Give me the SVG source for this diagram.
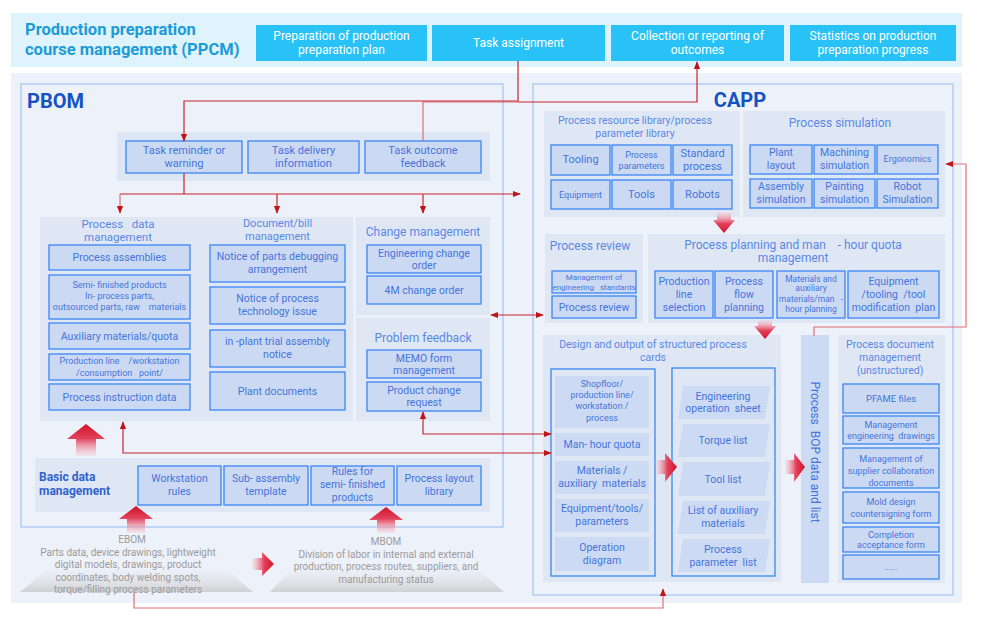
<svg xmlns="http://www.w3.org/2000/svg" width="987" height="629" viewBox="0 0 987 629">
<style>
text{font-family:Roboto,"Liberation Sans",sans-serif;text-anchor:middle;fill:#4674dc;font-size:10.5px}
.bx{fill:#cbdaf2;stroke:#3a86f4;stroke-width:1.3}
.fl{fill:#ccdbf3}
.pn{fill:#dfe7f5}
.ob{fill:none;stroke:#3a86f4;stroke-width:1.3}
.tt{font-size:12px;fill:#5b87e4}
.st{font-size:10.5px;fill:#5b87e4}
.cy{fill:#29c2f7}
.ct{fill:#ffffff;font-size:12px}
.g{fill:#9b9b9b;font-size:10px}
.s9{font-size:9px}
.s8{font-size:8px}
.hd{font-weight:bold;fill:#1552c4;font-size:20px}
.cn{fill:none;stroke:#c9252d;stroke-width:1.2}
.cl{fill:none;stroke:#de7077;stroke-width:1.2}
</style>
<defs>
<marker id="ah" viewBox="0 0 10 10" refX="9" refY="5" markerWidth="8" markerHeight="8" orient="auto-start-reverse" markerUnits="userSpaceOnUse"><path d="M0,1 L10,5 L0,9 Z" fill="#c0141c"/></marker>
<linearGradient id="gUp" x1="0" y1="0" x2="0" y2="1"><stop offset="0" stop-color="#d3122a"/><stop offset="0.45" stop-color="#e2415a"/><stop offset="1" stop-color="#f6d3db" stop-opacity="0.4"/></linearGradient>
<linearGradient id="gDn" x1="0" y1="1" x2="0" y2="0"><stop offset="0" stop-color="#d3122a"/><stop offset="0.45" stop-color="#e2415a"/><stop offset="1" stop-color="#f6d3db" stop-opacity="0.4"/></linearGradient>
<linearGradient id="gRt" x1="1" y1="0" x2="0" y2="0"><stop offset="0" stop-color="#d3122a"/><stop offset="0.45" stop-color="#e2415a"/><stop offset="1" stop-color="#f6d3db" stop-opacity="0.4"/></linearGradient>
<linearGradient id="gTr" x1="0" y1="0" x2="0" y2="1"><stop offset="0" stop-color="#e4e6ea" stop-opacity="0.2"/><stop offset="1" stop-color="#cfd0d3"/></linearGradient>
</defs>

<!-- PPCM band -->
<g id="ppcm">
<rect x="11" y="13" width="951" height="54" fill="#def3fb"/>
<text x="25" y="35" style="text-anchor:start;font-weight:bold;font-size:16.5px;fill:#1b9bd8">Production preparation</text>
<text x="25" y="55" style="text-anchor:start;font-weight:bold;font-size:16.5px;fill:#1b9bd8">course management (PPCM)</text>
</g>
<g id="plan"><rect class="cy" x="256" y="25" width="171" height="36"/><text class="ct" x="341.5" y="40">Preparation of production</text><text class="ct" x="341.5" y="54">preparation plan</text></g>
<g id="assign"><rect class="cy" x="432" y="25" width="173" height="36"/><text class="ct" x="518.5" y="47">Task assignment</text></g>
<g id="collect"><rect class="cy" x="611" y="25" width="173" height="36"/><text class="ct" x="697.5" y="40">Collection or reporting of</text><text class="ct" x="697.5" y="54">outcomes</text></g>
<g id="stats"><rect class="cy" x="790" y="25" width="166" height="36"/><text class="ct" x="873" y="40">Statistics on production</text><text class="ct" x="873" y="54">preparation progress</text></g>

<!-- main background -->
<rect x="11" y="73" width="951" height="530" fill="#edf1fa"/>

<!-- PBOM -->
<g id="pbom">
<rect x="21" y="84" width="482" height="443" fill="none" stroke="#a3c3f3" stroke-width="1.2"/>
<text class="hd" x="27" y="108" style="text-anchor:start">PBOM</text>
</g>
<g id="taskrow">
<rect x="117" y="132" width="373" height="49" fill="#dde6f4"/>
</g>
<g id="reminder"><rect class="bx" x="126" y="141" width="116" height="32"/><text x="184" y="154" style="font-size:11px">Task reminder or</text><text x="184" y="167" style="font-size:11px">warning</text></g>
<g id="delivery"><rect class="bx" x="248" y="141" width="111" height="32"/><text x="303.5" y="154" style="font-size:11px">Task delivery</text><text x="303.5" y="167" style="font-size:11px">information</text></g>
<g id="outcome"><rect class="bx" x="365" y="141" width="116" height="32"/><text x="423" y="154" style="font-size:11px">Task outcome</text><text x="423" y="167" style="font-size:11px">feedback</text></g>

<g id="pdm">
<rect class="pn" x="40" y="217" width="168" height="204"/>
<text class="tt" x="118" y="228" style="font-size:11.5px" xml:space="preserve">Process   data</text>
<text class="tt" x="118" y="241" style="font-size:11.5px">management</text>
<rect class="bx" x="49" y="245" width="141" height="25"/><text x="119.5" y="261">Process assemblies</text>
<rect class="bx" x="49" y="275" width="141" height="44"/><text class="s9" x="119.5" y="288">Semi- finished products</text><text class="s9" x="119.5" y="299">In- process parts,</text><text class="s9" x="119.5" y="310" xml:space="preserve">outsourced parts, raw    materials</text>
<rect class="bx" x="49" y="323" width="141" height="26"/><text x="119.5" y="340">Auxiliary materials/quota</text>
<rect class="bx" x="49" y="354" width="141" height="26"/><text class="s9" x="119.5" y="364" xml:space="preserve">Production line    /workstation</text><text class="s9" x="119.5" y="376" xml:space="preserve">/consumption   point/</text>
<rect class="bx" x="49" y="384" width="141" height="26"/><text x="119.5" y="401">Process instruction data</text>
</g>

<g id="docbill">
<rect class="pn" x="202" y="217" width="151" height="204"/>
<text class="tt" x="277.5" y="227" style="font-size:11px">Document/bill</text>
<text class="tt" x="277.5" y="240" style="font-size:11px">management</text>
<rect class="bx" x="210" y="245" width="135" height="37"/><text x="277.5" y="260">Notice of parts debugging</text><text x="277.5" y="273">arrangement</text>
<rect class="bx" x="210" y="287" width="135" height="37"/><text x="277.5" y="302">Notice of process</text><text x="277.5" y="315">technology issue</text>
<rect class="bx" x="210" y="330" width="135" height="37"/><text x="277.5" y="345">in -plant trial assembly</text><text x="277.5" y="358">notice</text>
<rect class="bx" x="210" y="372" width="135" height="38"/><text x="277.5" y="395">Plant documents</text>
</g>

<g id="change">
<rect class="pn" x="356" y="217" width="134" height="98"/>
<text class="tt" x="423" y="236">Change management</text>
<rect class="bx" x="367" y="245" width="114" height="28"/><text x="424" y="257">Engineering change</text><text x="424" y="269">order</text>
<rect class="bx" x="367" y="276" width="114" height="28"/><text x="424" y="294">4M change order</text>
</g>

<g id="problem">
<rect class="pn" x="356" y="318" width="134" height="103"/>
<text class="tt" x="423" y="342">Problem feedback</text>
<rect class="bx" x="367" y="350" width="114" height="28"/><text x="424" y="362">MEMO form</text><text x="424" y="374">management</text>
<rect class="bx" x="367" y="382" width="114" height="29"/><text x="424" y="394">Product change</text><text x="424" y="406">request</text>
</g>

<g id="basic">
<rect class="pn" x="35" y="458" width="455" height="54"/>
<text x="39" y="481" style="text-anchor:start;font-weight:bold;font-size:12px;fill:#2f62cc">Basic data</text>
<text x="39" y="495" style="text-anchor:start;font-weight:bold;font-size:12px;fill:#2f62cc">management</text>
<rect class="bx" x="138" y="466" width="83" height="39"/><text x="179.5" y="482">Workstation</text><text x="179.5" y="495">rules</text>
<rect class="bx" x="224" y="466" width="84" height="39"/><text x="266" y="482">Sub- assembly</text><text x="266" y="495">template</text>
<rect class="bx" x="311" y="466" width="83" height="39"/><text x="352.5" y="475">Rules for</text><text x="352.5" y="488">semi- finished</text><text x="352.5" y="501">products</text>
<rect class="bx" x="397" y="466" width="84" height="39"/><text x="439" y="482">Process layout</text><text x="439" y="495">library</text>
</g>

<g id="ebom">
<polygon points="20,592 253,592 227,570 47,570" fill="url(#gTr)"/>
<text class="g" x="132" y="543">EBOM</text>
<text class="g" x="128" y="556">Parts data, device drawings, lightweight</text>
<text class="g" x="128" y="568">digital models, drawings, product</text>
<text class="g" x="128" y="581">coordinates, body welding spots,</text>
<text class="g" x="128" y="593">torque/filling process parameters</text>
</g>
<g id="mbom">
<polygon points="270,592 504,592 479,570 291,570" fill="url(#gTr)"/>
<text class="g" x="386" y="545">MBOM</text>
<text class="g" x="386" y="558">Division of labor in internal and external</text>
<text class="g" x="386" y="570">production, process routes, suppliers, and</text>
<text class="g" x="386" y="583">manufacturing status</text>
</g>

<!-- CAPP -->
<g id="capp">
<rect x="533" y="84" width="420" height="511" fill="none" stroke="#a3c3f3" stroke-width="1.2"/>
<text class="hd" x="740" y="107">CAPP</text>
</g>

<g id="reslib">
<rect class="pn" x="544" y="111" width="196" height="106"/>
<text class="st" x="635" y="124">Process resource library/process</text>
<text class="st" x="635" y="137">parameter library</text>
<rect class="bx" x="551" y="145" width="59" height="30"/><text x="580.5" y="163" style="font-size:11px">Tooling</text>
<rect class="bx" x="612" y="145" width="59" height="30"/><text class="s9" x="641.5" y="158">Process</text><text class="s9" x="641.5" y="169">parameters</text>
<rect class="bx" x="673" y="145" width="59" height="30"/><text x="702.5" y="157" style="font-size:11px">Standard</text><text x="702.5" y="170" style="font-size:11px">process</text>
<rect class="bx" x="551" y="180" width="59" height="29"/><text class="s9" x="580.5" y="198">Equipment</text>
<rect class="bx" x="612" y="180" width="59" height="29"/><text x="641.5" y="198" style="font-size:11px">Tools</text>
<rect class="bx" x="673" y="180" width="59" height="29"/><text x="702.5" y="198" style="font-size:11px">Robots</text>
</g>

<g id="sim">
<rect class="pn" x="743" y="111" width="202" height="106"/>
<text class="tt" x="840" y="127">Process simulation</text>
<rect class="bx" x="750" y="145" width="62" height="29"/><text x="781" y="156">Plant</text><text x="781" y="169">layout</text>
<rect class="bx" x="814" y="145" width="61" height="29"/><text x="844.5" y="156">Machining</text><text x="844.5" y="169">simulation</text>
<rect class="bx" x="877" y="145" width="61" height="29"/><text class="s9" x="907.5" y="162">Ergonomics</text>
<rect class="bx" x="750" y="179" width="62" height="29"/><text x="781" y="190">Assembly</text><text x="781" y="203">simulation</text>
<rect class="bx" x="814" y="179" width="61" height="29"/><text x="844.5" y="190">Painting</text><text x="844.5" y="203">simulation</text>
<rect class="bx" x="877" y="179" width="61" height="29"/><text x="907.5" y="190">Robot</text><text x="907.5" y="203">Simulation</text>
</g>

<g id="review">
<rect class="pn" x="545" y="234" width="98" height="89"/>
<text class="tt" x="590" y="250">Process review</text>
<rect class="bx" x="552" y="271" width="84" height="22"/><text class="s8" x="594" y="280">Management of</text><text class="s8" x="594" y="290" xml:space="preserve">engineering   standards</text>
<rect class="bx" x="552" y="296" width="84" height="22"/><text x="594" y="311">Process review</text>
</g>

<g id="planning">
<rect class="pn" x="648" y="234" width="297" height="89"/>
<text class="tt" x="793" y="249" xml:space="preserve">Process planning and man    - hour quota</text>
<text class="tt" x="793" y="262">management</text>
<rect class="bx" x="655" y="271" width="58" height="47"/><text x="684" y="285">Production</text><text x="684" y="298">line</text><text x="684" y="311">selection</text>
<rect class="bx" x="715" y="271" width="58" height="47"/><text x="744" y="285">Process</text><text x="744" y="298">flow</text><text x="744" y="311">planning</text>
<rect class="bx" x="777" y="271" width="68" height="47"/><text x="811" y="282" style="font-size:8.5px">Materials and</text><text x="811" y="291" style="font-size:8.5px">auxiliary</text><text x="811" y="302" style="font-size:8.5px" xml:space="preserve">materials/man   -</text><text x="811" y="312" style="font-size:8.5px">hour planning</text>
<rect class="bx" x="848" y="271" width="91" height="47"/><text x="893.5" y="285">Equipment</text><text x="893.5" y="298" xml:space="preserve">/tooling  /tool</text><text x="893.5" y="311" xml:space="preserve">modification  plan</text>
</g>

<g id="design">
<rect class="pn" x="543" y="335" width="238" height="247"/>
<text class="st" x="653" y="348">Design and output of structured process</text>
<text class="st" x="653" y="361">cards</text>
<rect class="ob" x="551" y="369" width="104" height="207"/>
<rect class="fl" x="555" y="376" width="94" height="52"/><text class="s9" x="602" y="387">Shopfloor/</text><text class="s9" x="602" y="398">production line/</text><text class="s9" x="602" y="409">workstation /</text><text class="s9" x="602" y="421">process</text>
<rect class="fl" x="555" y="433" width="94" height="23"/><text x="602" y="448">Man- hour quota</text>
<rect class="fl" x="555" y="461" width="94" height="33"/><text x="602" y="474">Materials /</text><text x="602" y="487" xml:space="preserve">auxiliary  materials</text>
<rect class="fl" x="555" y="499" width="94" height="33"/><text x="602" y="512">Equipment/tools/</text><text x="602" y="525">parameters</text>
<rect class="fl" x="555" y="537" width="94" height="34"/><text x="602" y="551">Operation</text><text x="602" y="564">diagram</text>
<rect class="ob" x="672" y="368" width="103" height="208"/>
<polygon class="fl" points="683,386 770,386 765,419 678,419"/><text x="723" y="400">Engineering</text><text x="723" y="412" xml:space="preserve">operation  sheet</text>
<polygon class="fl" points="683,424 770,424 765,457 678,457"/><text x="723" y="444">Torque list</text>
<polygon class="fl" points="683,462 770,462 765,496 678,496"/><text x="723" y="483">Tool list</text>
<polygon class="fl" points="683,501 770,501 765,534 678,534"/><text x="723" y="514">List of auxiliary</text><text x="723" y="527">materials</text>
<polygon class="fl" points="683,539 770,539 765,572 678,572"/><text x="723" y="553">Process</text><text x="723" y="566" xml:space="preserve">parameter  list</text>
</g>

<g id="bop">
<rect class="fl" x="801" y="335" width="28" height="248"/>
<text x="815" y="452" transform="rotate(90 815 452)" dy="4" style="font-size:12px" xml:space="preserve">Process  BOP data and list</text>
</g>

<g id="docmgmt">
<rect class="pn" x="838" y="335" width="107" height="248"/>
<text class="st" x="890" y="348">Process document</text>
<text class="st" x="890" y="361">management</text>
<text class="st" x="890" y="374">(unstructured)</text>
<rect class="bx" x="843" y="384" width="96" height="29"/><text x="891" y="402" style="font-size:9.5px">PFAME files</text>
<rect class="bx" x="843" y="416" width="96" height="28"/><text class="s9" x="891" y="428">Management</text><text class="s9" x="891" y="439" xml:space="preserve">engineering  drawings</text>
<rect class="bx" x="843" y="448" width="96" height="40"/><text class="s9" x="891" y="462">Management of</text><text class="s9" x="891" y="474">supplier collaboration</text><text class="s9" x="891" y="486">documents</text>
<rect class="bx" x="843" y="492" width="96" height="31"/><text class="s9" x="891" y="505">Mold design</text><text class="s9" x="891" y="517">countersigning form</text>
<rect class="bx" x="843" y="527" width="96" height="25"/><text class="s9" x="891" y="538">Completion</text><text class="s9" x="891" y="548">acceptance form</text>
<rect class="bx" x="843" y="555" width="96" height="24"/><text class="s9" x="891" y="570">......</text>
</g>

<!-- big gradient arrows -->
<g id="bigarrows">
<path d="M86,424 L105,439 L96,439 L96,456 L76,456 L76,439 L67,439 Z" fill="url(#gUp)"/>
<path d="M136,506 L153,519 L145,519 L145,533 L127,533 L127,519 L119,519 Z" fill="url(#gUp)"/>
<path d="M386,507 L403,520 L395,520 L395,533 L377,533 L377,520 L369,520 Z" fill="url(#gUp)"/>
<path d="M252,558 L262,558 L262,552 L274,564 L262,576 L262,570 L252,570 Z" fill="url(#gRt)"/>
<path d="M656,460 L665,460 L665,453 L677,467 L665,482 L665,474 L656,474 Z" fill="url(#gRt)"/>
<path d="M785,460 L794,460 L794,453 L805,467 L794,482 L794,474 L785,474 Z" fill="url(#gRt)"/>
<path d="M717,212 L731,212 L731,220 L735,220 L724,233 L713,220 L717,220 Z" fill="url(#gDn)"/>
<path d="M758,320 L772,320 L772,326 L776,326 L765,339 L754,326 L758,326 Z" fill="url(#gDn)"/>
</g>

<!-- connectors -->
<g id="connectors">
<path class="cl" d="M423,141 V102 H518"/>
<path class="cn" d="M518,102 H697 V62" marker-end="url(#ah)"/>
<path class="cn" d="M518,61 V101 H184 V141" marker-end="url(#ah)"/>
<path class="cn" d="M184,173 V194"/>
<path class="cn" d="M120,194 H520" marker-end="url(#ah)"/>
<path class="cl" d="M120,194 V213" marker-end="url(#ah)"/>
<path class="cn" d="M277,194 V213" marker-end="url(#ah)"/>
<path class="cn" d="M423,194 V213" marker-end="url(#ah)"/>
<path class="cn" d="M491,315 H543" marker-start="url(#ah)" marker-end="url(#ah)"/>
<path class="cn" d="M123,422 V453 H551" marker-start="url(#ah)" marker-end="url(#ah)"/>
<path class="cn" d="M423,412 V434 H551" marker-start="url(#ah)" marker-end="url(#ah)"/>
<path class="cl" d="M134,592 V608 H663 V589" marker-end="url(#ah)"/>
<path class="cl" d="M814,336 V327 H966 V164 H946" marker-end="url(#ah)"/>
</g>
</svg>
